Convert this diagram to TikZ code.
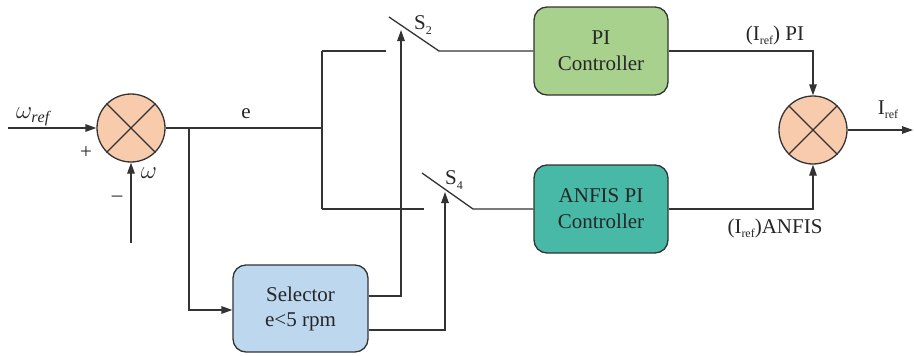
\documentclass[tikz,border=0pt]{standalone}
\usepackage{fontspec}
\setmainfont{Liberation Serif}
\newfontfamily\myserif{Liberation Serif}
\usetikzlibrary{arrows.meta}
\definecolor{ln}{HTML}{333333}
\definecolor{peach}{HTML}{F8CBAD}
\definecolor{pigreen}{HTML}{A9D18E}
\definecolor{tealbox}{HTML}{47B9A6}
\definecolor{selblue}{HTML}{BDD7EE}
\newcommand{\mysub}[1]{\raisebox{-0.45ex}{\fontsize{12}{12}\selectfont #1}}
\begin{document}
\begin{tikzpicture}[x=1pt,y=-1pt,
  wire/.style={draw=ln, line width=1.3pt},
  arr/.style={wire, -{Triangle[length=11pt,width=7.5pt]}},
  sumnode/.style={circle, draw=ln, fill=peach, minimum size=68pt, inner sep=0pt, line width=1.3pt},
  blk/.style={draw=ln, rounded corners=13pt, minimum width=134pt, minimum height=88pt, align=center,
              font=\myserif\fontsize{21}{26}\selectfont, line width=1.3pt, text=black!85},
  lbl/.style={font=\myserif\fontsize{21}{24}\selectfont, inner sep=0pt, text=black!85}]
\useasboundingbox (0,0) rectangle (914,356);

% summing junctions
\node[sumnode] (s1) at (131,128) {};
\draw[wire] (s1.45) -- (s1.225) (s1.135) -- (s1.-45);
\node[sumnode] (s2) at (813,130) {};
\draw[wire] (s2.45) -- (s2.225) (s2.135) -- (s2.-45);

% blocks
\node[blk, fill=pigreen] (pi) at (601,51) {PI\\Controller};
\node[blk, fill=tealbox] (anfis) at (601,209) {ANFIS PI\\Controller};
\node[blk, fill=selblue, minimum width=135pt, minimum height=87pt, font=\myserif\fontsize{21}{25}\selectfont] (sel) at (300.5,308.5) {Selector\\e<5 rpm};

% coordinates
\coordinate (in) at (8,128);
\coordinate (fb) at (131,243);
\coordinate (jb2) at (189,128);
\coordinate (jb3) at (189,310);
\coordinate (j1) at (322,128);
\coordinate (jt) at (322,51);
\coordinate (jb) at (322,209);
\coordinate (t1) at (386,51);
\coordinate (b1) at (424,209);
\coordinate (s2a) at (389,17);
\coordinate (s2b) at (439,51);
\coordinate (s4a) at (422,173);
\coordinate (s4b) at (473,209);
\coordinate (c1) at (401,296);
\coordinate (c1t) at (401,30);
\coordinate (c2) at (445,330);
\coordinate (c2t) at (445,192);
\coordinate (out) at (913,130);

% wires
\draw[arr] (in) -- (s1.west);
\draw[arr] (fb) -- (s1.south);
\draw[wire] (s1.east) -- (j1);
\draw[wire] (jt) -- (jb);
\draw[wire] (jt) -- (t1);
\draw[wire] (jb) -- (b1);
\draw[arr] (jb2) -- (jb3) -- (jb3 -| sel.west);
\draw[wire] (s2a) -- (s2b) -- (pi.west);
\draw[wire] (s4a) -- (s4b) -- (anfis.west);
\draw[arr] (c1 -| sel.east) -- (c1) -- (c1t);
\draw[arr] (c2 -| sel.east) -- (c2) -- (c2t);
\draw[arr] (pi.east) -- (pi.east -| s2) -- (s2.north);
\draw[arr] (anfis.east) -- (anfis.east -| s2) -- (s2.south);
\draw[arr] (s2.east) -- (out);

% labels
\node[lbl, font=\fontsize{23}{24}\selectfont] (lwref) at (33,117) {$\omega_{\mathit{ref}}$};
\node[lbl] (lplus) at (86,153) {+};
\node[lbl] (lminus) at (117,199) {\textendash};
\node[lbl, font=\fontsize{23}{24}\selectfont] (lw) at (149,173) {$\omega$};
\node[lbl] (le) at (246,114) {e};
\node[lbl, anchor=west] (ls2) at (414,25) {S\mysub{2}};
\node[lbl, anchor=west] (ls4) at (445,180) {S\mysub{4}};
\node[lbl] (lpi) at (775,35) {(I\mysub{ref}) PI};
\node[lbl] (lanfis) at (775,228) {(I\mysub{ref})ANFIS};
\node[lbl] (liref) at (888,110) {I\mysub{ref}};
\end{tikzpicture}
\end{document}
